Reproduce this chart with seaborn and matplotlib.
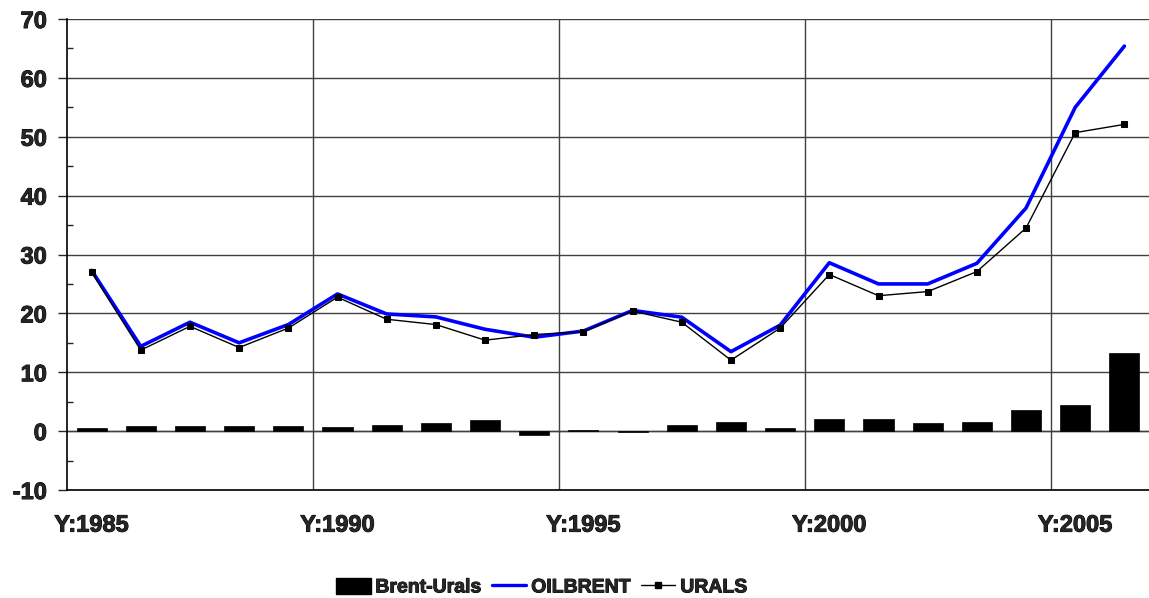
import numpy as np
import pandas as pd
import matplotlib
matplotlib.use("Agg")
import matplotlib.pyplot as plt
import matplotlib.patheffects as pe
import seaborn as sns
from matplotlib.ticker import MultipleLocator, FixedLocator
from matplotlib.lines import Line2D
from matplotlib.patches import Patch
from matplotlib.font_manager import FontProperties

years = list(range(1985, 2007))
oilbrent = [27.3, 14.4, 18.5, 15.0, 18.1, 23.3, 19.9, 19.4, 17.3, 15.95, 17.0, 20.5,
            19.35, 13.5, 18.0, 28.6, 25.0, 25.0, 28.5, 37.9, 55.0, 65.4]
urals = [27.0, 13.75, 17.8, 14.2, 17.5, 22.75, 19.0, 18.1, 15.45, 16.4, 16.9, 20.4,
         18.5, 12.05, 17.5, 26.6, 23.0, 23.7, 27.1, 34.5, 50.7, 52.1]
brent_urals = [0.6, 0.8, 0.8, 0.9, 0.8, 0.7, 1.0, 1.35, 1.9, -0.6, 0.2, -0.15,
               1.1, 1.5, 0.6, 2.1, 2.0, 1.4, 1.5, 3.6, 4.4, 13.2]
tick_years = [1985, 1990, 1995, 2000, 2005]
y_ticks = [-10, 0, 10, 20, 30, 40, 50, 60, 70]

sns.set_style("white")
plt.rcParams['font.family'] = ['Liberation Sans', 'DejaVu Sans']
plt.rcParams['font.weight'] = 'bold'
plt.rcParams['axes.unicode_minus'] = False

tick_fp = FontProperties(family='Liberation Sans', weight='bold', size=17)
leg_fp = FontProperties(family='Liberation Sans', weight='bold', size=14)
heavy = [pe.withStroke(linewidth=0.7, foreground='black')]

df = pd.DataFrame({"year": years, "idx": np.arange(len(years)),
                   "OILBRENT": oilbrent, "URALS": urals, "Brent-Urals": brent_urals})

fig = plt.figure(figsize=(11.49, 5.98), dpi=100)
ax = fig.add_axes([67/1149, 1 - 490/598, 1 - 67/1149, (490 - 19)/598])

sns.barplot(data=df, x="idx", y="Brent-Urals", color="black", width=0.61,
            saturation=1, ax=ax, zorder=3, edgecolor="black", linewidth=0.5)
sns.lineplot(data=df, x="idx", y="OILBRENT", color="#0000FF", linewidth=2.6,
             ax=ax, zorder=4)
sns.lineplot(data=df, x="idx", y="URALS", color="black", linewidth=1.0,
             marker="s", markersize=4.8, markeredgecolor="black",
             markerfacecolor="black", ax=ax, zorder=5)

ax.set_xlim(-0.5, len(years) - 0.5)
ax.set_ylim(-10, 70)
ax.set_xlabel("")
ax.set_ylabel("")

# y axis
ax.set_yticks(y_ticks)
ax.set_yticklabels([str(v) for v in y_ticks], fontproperties=tick_fp)
ax.yaxis.set_minor_locator(MultipleLocator(5))
ax.tick_params(axis='y', which='major', direction='out', length=6.5, width=1,
               pad=8, left=True)
ax.tick_params(axis='y', which='minor', direction='in', length=4, width=1, left=True)
ax.grid(axis='y', which='major', color='#404040', linewidth=1, zorder=0)

# x axis
tick_pos = [years.index(y) for y in tick_years]
ax.set_xticks(tick_pos)
ax.set_xticklabels([f"Y:{y}" for y in tick_years], fontproperties=tick_fp)
ax.tick_params(axis='x', which='major', length=0, pad=17)
ax.xaxis.set_minor_locator(FixedLocator([4.5, 9.5, 14.5, 19.5]))
ax.tick_params(axis='x', which='minor', length=0)
ax.grid(axis='x', which='minor', color='#404040', linewidth=1, zorder=0)
ax.axhline(0, color='#404040', linewidth=1, zorder=1)

for lbl in ax.get_xticklabels() + ax.get_yticklabels():
    lbl.set_path_effects(heavy)

for s in ['top', 'right']:
    ax.spines[s].set_visible(False)
ax.spines['left'].set_color('black')
ax.spines['bottom'].set_color('black')
ax.spines['left'].set_linewidth(1.2)
ax.spines['bottom'].set_linewidth(1.2)

handles = [Patch(facecolor='black', edgecolor='black'),
           Line2D([], [], color='#0000FF', linewidth=2.4),
           Line2D([], [], color='black', linewidth=1.0, marker='s', markersize=4)]
labels = ["Brent-Urals", "OILBRENT", "URALS"]
leg = fig.legend(handles, labels, loc='center', bbox_to_anchor=(542/1149, 1 - 587/598),
                 ncol=3, frameon=False, prop=leg_fp,
                 handlelength=1.75, handletextpad=0.25, columnspacing=0.55,
                 handleheight=0.9)
for t in leg.get_texts():
    t.set_path_effects(heavy)

fig.savefig("out.png", dpi=100)
